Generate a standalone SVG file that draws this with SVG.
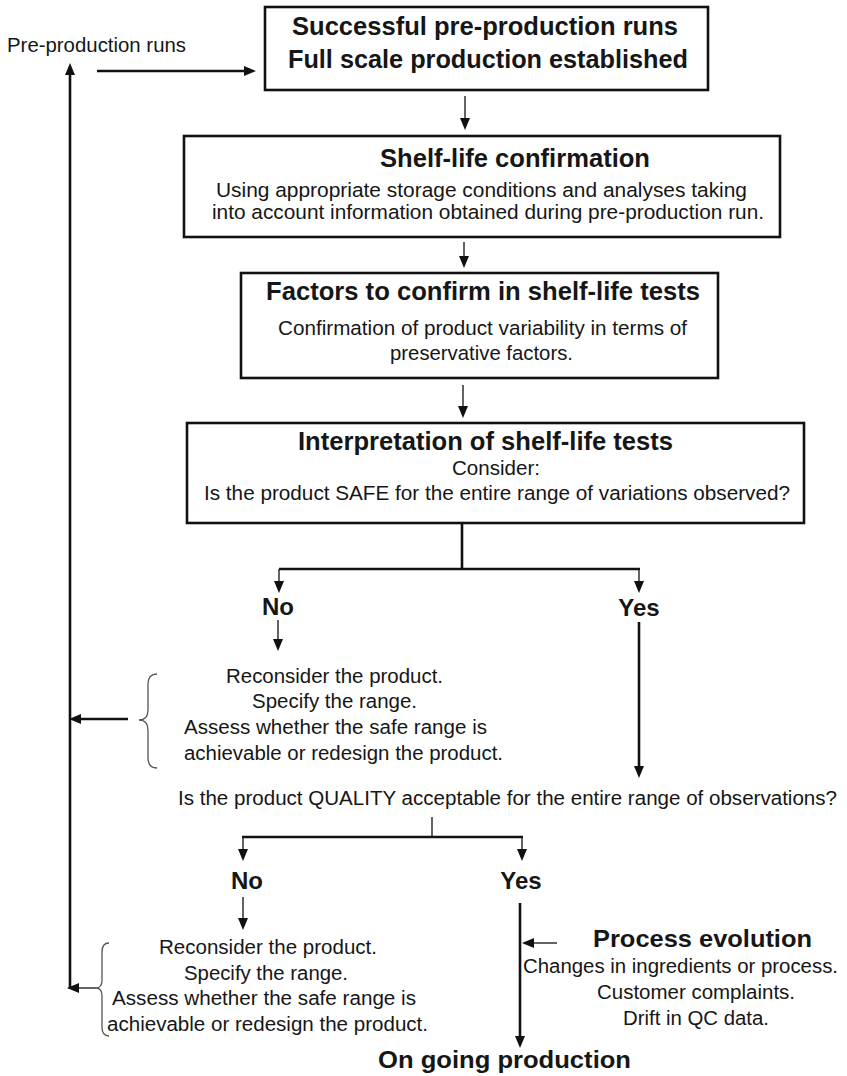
<svg xmlns="http://www.w3.org/2000/svg" width="847" height="1076" viewBox="0 0 847 1076">
  <style>
    .box { fill: #ffffff; stroke: #111111; stroke-width: 2.6; }
    .t { font-family: "Liberation Sans", Arial, sans-serif; fill: #161616; }
    .title { font-size: 25px; font-weight: bold; }
    .body { font-size: 20.5px; }
    .lab { font-size: 24px; font-weight: bold; }
    .txt { font-size: 20px; }
    .thin { stroke: #222222; stroke-width: 1.4; fill: none; }
    .thick { stroke: #111111; stroke-width: 2.6; fill: none; }
    .brace { stroke: #555555; stroke-width: 1.3; fill: none; }
  </style>
  <defs>
    <marker id="arrow" markerUnits="userSpaceOnUse" markerWidth="12" markerHeight="10" refX="7" refY="5" orient="auto">
      <path d="M0,0 L12,5 L0,10 z" fill="#111111"/>
    </marker>
  </defs>

  <rect width="847" height="1076" fill="#ffffff"/>

  <!-- connectors -->
  <g id="connectors">
    <!-- pre-production loop -->
    <line class="thick" x1="97" y1="71" x2="251" y2="71" marker-end="url(#arrow)"/>
    <line class="thick" x1="70" y1="989" x2="70" y2="68" marker-end="url(#arrow)"/>
    <line class="thick" x1="128" y1="719" x2="74" y2="719" marker-end="url(#arrow)"/>
    <line class="thin" x1="96" y1="988" x2="72" y2="988" marker-end="url(#arrow)"/>

    <!-- main chain -->
    <line class="thin" x1="465" y1="96" x2="465" y2="125" marker-end="url(#arrow)"/>
    <line class="thin" x1="464" y1="242" x2="464" y2="263" marker-end="url(#arrow)"/>
    <line class="thin" x1="463" y1="385" x2="463" y2="413" marker-end="url(#arrow)"/>

    <!-- SAFE decision split -->
    <polyline class="thick" points="462,523 462,569"/>
    <line class="thick" x1="279" y1="569" x2="640" y2="569"/>
    <line class="thin" x1="279" y1="569" x2="279" y2="588" marker-end="url(#arrow)"/>
    <line class="thin" x1="639" y1="569" x2="639" y2="588" marker-end="url(#arrow)"/>
    <line class="thin" x1="278" y1="620" x2="278" y2="646" marker-end="url(#arrow)"/>
    <line class="thick" x1="639" y1="622" x2="639" y2="773" marker-end="url(#arrow)"/>

    <!-- QUALITY decision split -->
    <line class="thin" x1="432" y1="817" x2="432" y2="837"/>
    <line class="thick" x1="242" y1="837" x2="523" y2="837"/>
    <line class="thin" x1="243" y1="837" x2="243" y2="856" marker-end="url(#arrow)"/>
    <line class="thin" x1="522" y1="837" x2="522" y2="856" marker-end="url(#arrow)"/>
    <line class="thin" x1="243" y1="897" x2="243" y2="925" marker-end="url(#arrow)"/>
    <line class="thick" x1="520" y1="903" x2="520" y2="1043" marker-end="url(#arrow)"/>
    <line class="thin" x1="557" y1="943" x2="527" y2="943" marker-end="url(#arrow)"/>

    <!-- braces -->
    <path class="brace" d="M157,674 Q148,674 148,684 L148,710 Q148,720 139,720 Q148,720 148,730 L148,758 Q148,768 157,768"/>
    <path class="brace" d="M109,943 Q102,943 102,952 L102,980 Q102,988 96,988 Q102,988 102,996 L102,1027 Q102,1036 109,1036"/>
  </g>

  <g id="pre-production">
    <text class="t txt" x="7" y="52" textLength="179" lengthAdjust="spacingAndGlyphs">Pre-production runs</text>
  </g>

  <g id="full-scale">
    <rect class="box" x="265" y="7" width="443" height="83"/>
    <text class="t title" x="292" y="35" textLength="386" lengthAdjust="spacingAndGlyphs">Successful pre-production runs</text>
    <text class="t title" x="288" y="68" textLength="400" lengthAdjust="spacingAndGlyphs">Full scale production established</text>
  </g>

  <g id="shelf-life-confirmation">
    <rect class="box" x="184" y="136" width="596" height="101"/>
    <text class="t title" x="380" y="167" textLength="270" lengthAdjust="spacingAndGlyphs">Shelf-life confirmation</text>
    <text class="t body" x="216" y="197" textLength="531" lengthAdjust="spacingAndGlyphs">Using appropriate storage conditions and analyses taking</text>
    <text class="t body" x="212" y="219" textLength="552" lengthAdjust="spacingAndGlyphs">into account information obtained during pre-production run.</text>
  </g>

  <g id="factors">
    <rect class="box" x="241" y="273" width="477" height="105"/>
    <text class="t title" x="266" y="300" textLength="434" lengthAdjust="spacingAndGlyphs">Factors to confirm in shelf-life tests</text>
    <text class="t body" x="278" y="335" textLength="409" lengthAdjust="spacingAndGlyphs">Confirmation of product variability in terms of</text>
    <text class="t body" x="390" y="360" textLength="183" lengthAdjust="spacingAndGlyphs">preservative factors.</text>
  </g>

  <g id="interpretation">
    <rect class="box" x="187" y="423" width="617" height="100"/>
    <text class="t title" x="298" y="450" textLength="375" lengthAdjust="spacingAndGlyphs">Interpretation of shelf-life tests</text>
    <text class="t body" x="452" y="475" textLength="88" lengthAdjust="spacingAndGlyphs">Consider:</text>
    <text class="t body" x="204" y="500" textLength="586" lengthAdjust="spacingAndGlyphs">Is the product SAFE for the entire range of variations observed?</text>
  </g>

  <g id="safe-no">
    <text class="t lab" x="278" y="615" text-anchor="middle">No</text>
  </g>
  <g id="safe-yes">
    <text class="t lab" x="639" y="616" text-anchor="middle">Yes</text>
  </g>

  <g id="safe-rethink">
    <text class="t txt" x="226" y="683" textLength="217" lengthAdjust="spacingAndGlyphs">Reconsider the product.</text>
    <text class="t txt" x="252" y="708" textLength="165" lengthAdjust="spacingAndGlyphs">Specify the range.</text>
    <text class="t txt" x="184" y="734" textLength="303" lengthAdjust="spacingAndGlyphs">Assess whether the safe range is</text>
    <text class="t txt" x="184" y="760" textLength="319" lengthAdjust="spacingAndGlyphs">achievable or redesign the product.</text>
  </g>

  <g id="quality-question">
    <text class="t txt" x="178" y="805" textLength="659" lengthAdjust="spacingAndGlyphs">Is the product QUALITY acceptable for the entire range of observations?</text>
  </g>

  <g id="quality-no">
    <text class="t lab" x="247" y="889" text-anchor="middle">No</text>
  </g>
  <g id="quality-yes">
    <text class="t lab" x="521" y="889" text-anchor="middle">Yes</text>
  </g>

  <g id="quality-rethink">
    <text class="t txt" x="159" y="954" textLength="218" lengthAdjust="spacingAndGlyphs">Reconsider the product.</text>
    <text class="t txt" x="184" y="980" textLength="164" lengthAdjust="spacingAndGlyphs">Specify the range.</text>
    <text class="t txt" x="112" y="1005" textLength="304" lengthAdjust="spacingAndGlyphs">Assess whether the safe range is</text>
    <text class="t txt" x="107" y="1031" textLength="321" lengthAdjust="spacingAndGlyphs">achievable or redesign the product.</text>
  </g>

  <g id="process-evolution">
    <text class="t lab" x="593" y="947" textLength="219" lengthAdjust="spacingAndGlyphs">Process evolution</text>
    <text class="t txt" x="523" y="973" textLength="315" lengthAdjust="spacingAndGlyphs">Changes in ingredients or process.</text>
    <text class="t txt" x="597" y="999" textLength="198" lengthAdjust="spacingAndGlyphs">Customer complaints.</text>
    <text class="t txt" x="623" y="1025" textLength="146" lengthAdjust="spacingAndGlyphs">Drift in QC data.</text>
  </g>

  <g id="ongoing-production">
    <text class="t lab" x="378" y="1068" textLength="253" lengthAdjust="spacingAndGlyphs">On going production</text>
  </g>
</svg>
